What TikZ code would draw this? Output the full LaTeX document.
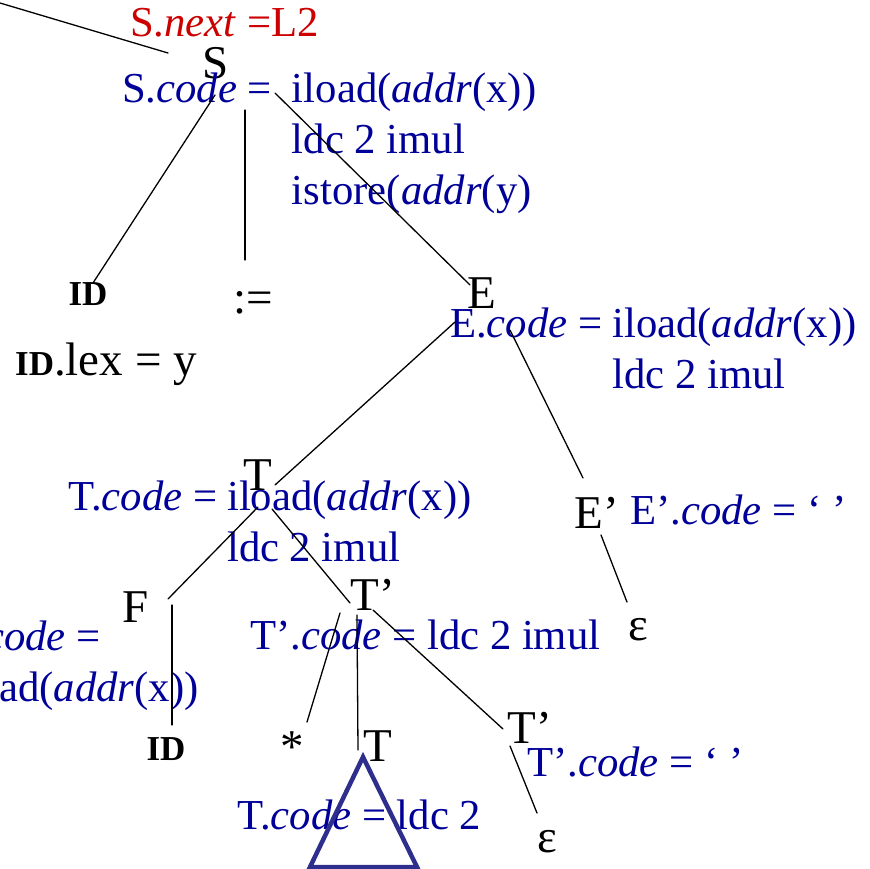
\documentclass[tikz,border=0pt]{standalone}
\usepackage{fontspec}
\setmainfont{Liberation Serif}
\usepackage{tikz}
\definecolor{codeblue}{RGB}{0,0,153}
\definecolor{nextred}{RGB}{204,0,0}
\definecolor{subtreeblue}{RGB}{46,46,140}

\begin{document}
\begin{tikzpicture}[x=1pt, y=-1pt,
    sym/.style={font=\fontsize{47}{50}\selectfont, inner sep=0pt, anchor=base},
    lexbold/.style={font=\fontsize{35}{40}\selectfont\bfseries, inner sep=0pt, anchor=base},
    attr/.style={font=\fontsize{42.7}{51}\selectfont, text=codeblue, inner sep=0pt, anchor=base west},
    branch/.style={line width=1.3pt, line cap=round},
    tri/.style={draw=subtreeblue, line width=4.5pt}]
    \useasboundingbox (0,0) rectangle (870,869);

    % we place the grammar symbols of the parse tree
    \node[sym] (S) at (216,79) {S};
    \node[lexbold] (id1) at (88,305) {ID};
    \node[sym] (assign) at (253,313) {:=};
    \node[sym] (E) at (482,308) {E};
    \node[sym] (T) at (258,490) {T};
    \node[sym] (Ep) at (597,528) {E’};
    \node[sym] (F) at (136,622) {F};
    \node[sym] (Tp) at (373,610) {T’};
    \node[lexbold] (id2) at (166,760) {ID};
    \node[sym] (star) at (292,762) {*};
    \node[sym] (Tsub) at (378,761) {T};
    \node[sym] (Tpp) at (530,743) {T’};
    \node[sym] (eps1) at (638,640) {ε};
    \node[sym] (eps2) at (547,852) {ε};

    % we write the attribute values next to the symbols
    \node[attr, text=nextred] (Snext) at (130,37) {S.\textit{next} =L2};
    \node[attr] (Scode) at (122,103) {\begin{tabular}[t]{@{}l@{\hspace{20pt}}l@{}}S.\textit{code} =&iload(\textit{addr}(x))\\&ldc 2 imul\\&istore(\textit{addr}(y)\end{tabular}};
    \node[sym, anchor=base west] (idlex) at (15,375) {{\fontsize{35}{40}\selectfont\bfseries ID}.lex = y};
    \node[attr] (Ecode) at (450,337) {\begin{tabular}[t]{@{}l@{\hspace{10pt}}l@{}}E.\textit{code} =&iload(\textit{addr}(x))\\&ldc 2 imul\end{tabular}};
    \node[attr] (Tcode) at (68,510) {\begin{tabular}[t]{@{}l@{\hspace{10pt}}l@{}}T.\textit{code} =&iload(\textit{addr}(x))\\&ldc 2 imul\end{tabular}};
    \node[attr] (Epcode) at (630,524) {E’.\textit{code} = ‘ ’};
    \node[attr] (Fcode) at (-46,650) {\begin{tabular}[t]{@{}l@{}}F.\textit{code} =\\iload(\textit{addr}(x))\end{tabular}};
    \node[attr] (Tpcode) at (250,649) {T’.\textit{code} = ldc 2 imul};
    \node[attr] (Tppcode) at (527,776) {T’.\textit{code} = ‘ ’};
    \node[attr] (Tsubcode) at (237,829) {T.\textit{code} = ldc 2};

    % we draw the branches of the tree
    \coordinate (up) at (0,3);
    \draw[branch] (up) -- ([shift={(-48,-26)}]S.base);
    \draw[branch] ([shift={(-1,16)}]S.base) -- ([shift={(5,-22)}]id1.base);
    \draw[branch] ([shift={(29,31)}]S.base) -- ([shift={(-8,-53)}]assign.base);
    \draw[branch] ([shift={(59,14)}]S.base) -- ([shift={(-12,-23)}]E.base);
    \draw[branch] ([shift={(-27,14)}]E.base) -- ([shift={(17,-5)}]T.base);
    \draw[branch] ([shift={(28,22)}]E.base) -- ([shift={(-14,-50)}]Ep.base);
    \draw[branch] ([shift={(0,17)}]T.base) -- ([shift={(32,-23)}]F.base);
    \draw[branch] ([shift={(14,19)}]T.base) -- ([shift={(-23,-7)}]Tp.base);
    \draw[branch] ([shift={(36,-17)}]F.base) -- ([shift={(6,-35)}]id2.base);
    \draw[branch] ([shift={(-33,3)}]Tp.base) -- ([shift={(15,-40)}]star.base);
    \draw[branch] ([shift={(-16,5)}]Tp.base) -- ([shift={(-20,-11)}]Tsub.base);
    \draw[branch] (Tp.base) -- ([shift={(-27,-14)}]Tpp.base);
    \draw[branch] ([shift={(-20,3)}]Tpp.base) -- ([shift={(-10,-39)}]eps2.base);
    \draw[branch] ([shift={(4,7)}]Ep.base) -- ([shift={(-11,-38)}]eps1.base);

    % we draw the collapsed subtree under T
    \draw[tri] ([shift={(-15,-4)}]Tsub.base) -- ++(-53,110) -- ++(107,0) -- cycle;
\end{tikzpicture}
\end{document}
